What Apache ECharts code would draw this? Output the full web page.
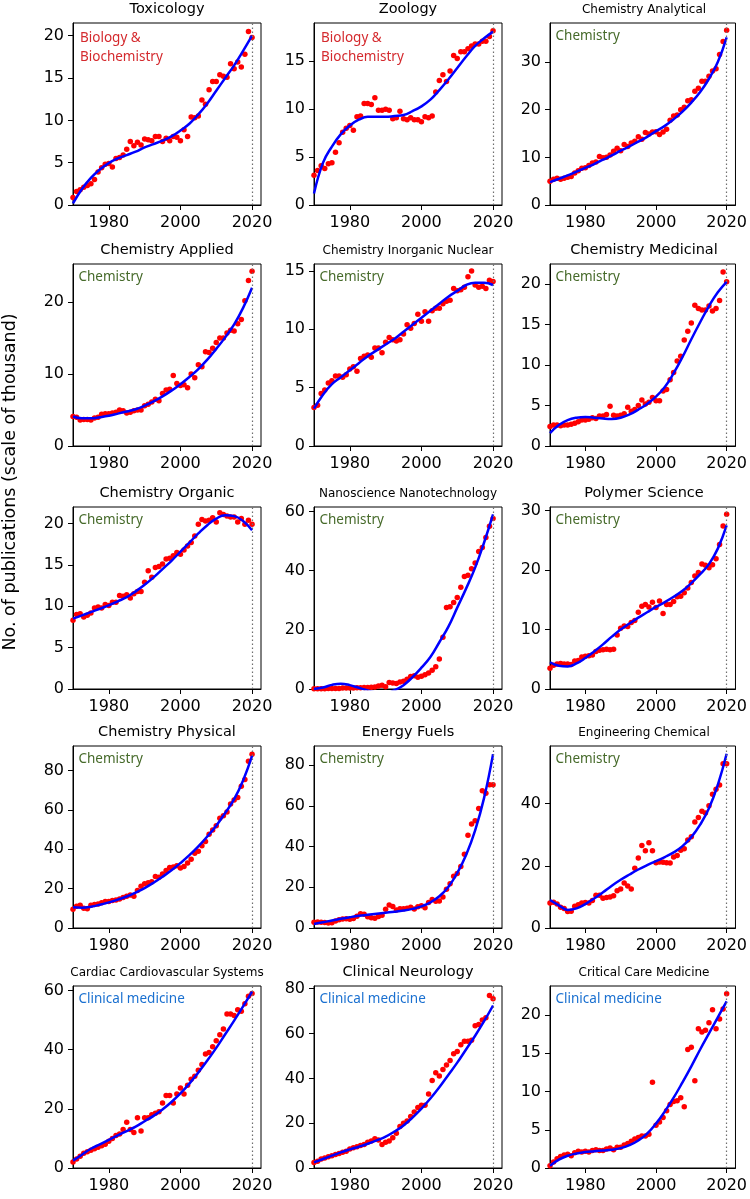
<!DOCTYPE html>
<html>
<head>
<meta charset="utf-8">
<script src="https://cdn.jsdelivr.net/npm/echarts@6/dist/echarts.min.js"></script>
<style>
html,body{margin:0;padding:0;background:#fff;}
#chart{width:750px;height:1199px;}
</style>
</head>
<body>
<div id="chart"></div>
<script>
// ---------------- DATA ----------------
const panelTitles = [
  'Toxicology', 'Zoology', 'Chemistry Analytical',
  'Chemistry Applied', 'Chemistry Inorganic Nuclear', 'Chemistry Medicinal',
  'Chemistry Organic', 'Nanoscience Nanotechnology', 'Polymer Science',
  'Chemistry Physical', 'Energy Fuels', 'Engineering Chemical',
  'Cardiac Cardiovascular Systems', 'Clinical Neurology', 'Critical Care Medicine'
];
const fieldNames = ['Biology &\nBiochemistry', 'Chemistry', 'Clinical medicine'];
const panelField = [0, 0, 1, 1, 1, 1, 1, 1, 1, 1, 1, 1, 2, 2, 2];
const yAxisLabel = 'No. of publications (scale of thousand)';

const years = [];
for (let y = 1970; y <= 2020; y++) years.push(y);
const fitYears = [1970, 1972.5, 1975, 1977.5, 1980, 1982.5, 1985, 1987.5, 1990, 1992.5, 1995,
  1997.5, 2000, 2002.5, 2005, 2007.5, 2010, 2012.5, 2015, 2017.5, 2020];
const xTickValues = [1980, 2000, 2020];
const referenceYear = 2020;

// yearly publications (thousands), 1970..2020
const toxicology = [0.9,1.6,1.8,2.1,2.3,2.5,3.0,3.9,4.4,4.8, 4.9,4.5,5.5,5.6,5.9,6.6,7.5,7.0,7.4,7.1,
  7.8,7.7,7.6,8.1,8.1,7.5,7.9,7.6,8.1,8.0, 7.6,8.9,8.1,10.4,10.3,10.5,12.4,11.9,13.6,14.6,
  14.6,15.4,15.2,15.1,16.7,16.1,16.9,16.3,17.8,20.5,19.8];
const zoology = [3.1,3.6,4.1,3.8,4.3,4.4,5.5,6.5,7.6,8.0, 8.3,7.8,9.2,9.3,10.6,10.6,10.5,11.2,9.9,9.9,
  10.0,9.9,9.0,9.1,9.8,9.0,8.9,9.1,8.9,8.9, 8.7,9.2,9.1,9.3,11.8,13.0,13.6,12.9,14.0,15.6,
  15.3,16.0,16.0,16.3,16.6,16.8,16.8,17.1,17.1,17.6,18.2];
const chemAnalytical = [5.0,5.4,5.6,5.4,5.6,5.8,6.0,6.7,7.2,7.7, 7.8,8.3,8.8,9.0,10.2,9.9,10.0,10.5,11.3,11.9,
  11.4,12.7,12.3,13.0,13.4,14.3,13.8,15.2,14.9,15.3, 15.4,14.8,15.3,15.9,17.8,18.7,18.9,20.0,20.5,21.9,
  22.1,23.9,24.5,26.0,26.0,27.0,28.1,28.6,31.6,34.3,36.7];
const chemApplied = [4.1,4.0,3.6,3.7,3.7,3.6,3.9,4.0,4.4,4.5, 4.5,4.6,4.7,5.0,4.9,4.6,4.7,4.9,5.0,5.0,
  5.6,5.8,6.1,6.5,6.3,7.3,7.8,7.9,9.8,8.7, 8.4,8.5,8.1,10.0,9.5,11.3,11.0,13.1,13.0,13.6,
  14.4,15.0,15.0,15.7,16.1,16.0,17.0,17.6,20.2,23.0,24.3];
const chemInorganic = [3.3,3.5,4.5,4.8,5.4,5.6,6.0,6.0,5.9,6.1, 6.6,6.8,6.4,7.5,7.7,7.8,7.6,8.4,8.4,8.0,
  8.9,9.3,9.1,9.0,9.1,9.6,10.4,10.1,10.5,11.3, 10.7,11.5,10.7,11.6,11.8,11.8,12.2,12.4,12.5,13.5,
  13.3,13.4,13.6,14.5,15.0,13.8,13.6,13.7,13.5,14.2,14.1];
const chemMedicinal = [2.4,2.6,2.6,2.5,2.6,2.6,2.7,2.8,3.0,3.2, 3.2,3.3,3.5,3.4,3.7,3.7,3.9,4.9,3.8,3.7,
  3.8,4.0,4.8,4.3,4.5,5.0,5.7,5.2,5.4,6.0, 5.6,5.6,6.8,7.0,8.2,9.1,10.5,11.1,13.1,14.2,
  15.2,17.4,17.0,16.8,16.8,17.3,16.7,17.0,18.0,21.5,20.3];
const chemOrganic = [8.3,9.0,9.1,8.7,8.9,9.2,9.8,9.9,9.8,10.2, 10.1,10.5,10.5,11.3,11.2,11.4,11.0,11.5,11.8,11.8,
  12.9,14.3,13.5,14.7,14.8,15.1,15.7,15.8,16.1,16.5, 16.3,16.8,17.3,17.7,18.5,19.9,20.5,20.3,20.4,20.7,
  20.2,21.3,21.1,20.9,20.8,20.8,20.2,20.6,19.9,20.4,19.9];
const nanoscience = [0.1,0.1,0.1,0.1,0.2,0.2,0.2,0.2,0.3,0.3, 0.3,0.3,0.4,0.4,0.5,0.5,0.6,0.7,1.0,1.3,
  0.8,2.2,2.0,1.9,2.4,2.6,3.3,4.2,4.5,4.0, 4.3,4.8,5.4,6.3,7.5,10.1,17.5,27.5,27.8,29.2,
  30.9,34.4,38.0,38.4,40.6,42.6,46.5,47.8,51.2,55.0,57.6];
const polymer = [3.5,4.0,4.2,4.3,4.2,4.2,4.1,4.7,4.8,5.4, 5.5,5.6,5.7,6.3,6.5,6.6,6.7,6.6,6.7,9.1,
  10.2,10.6,10.5,11.2,11.5,12.9,13.9,14.2,13.8,14.6, 13.7,14.8,12.7,14.2,14.2,14.7,15.5,15.6,16.2,17.0,
  17.9,19.0,19.6,21.0,20.8,20.4,20.9,21.9,24.3,27.4,29.4];
const chemPhysical = [9.5,11.0,11.5,10.0,9.8,11.5,12.0,12.2,12.8,13.5, 13.5,14.0,14.2,14.8,15.5,16.2,16.8,16.2,19.0,21.2,
  22.5,23.0,23.5,26.2,25.8,27.5,29.2,30.8,31.0,31.6, 30.5,31.2,33.0,35.0,38.0,39.0,41.8,44.0,47.6,49.8,
  52.0,55.8,57.0,59.0,63.0,65.0,66.3,72.0,75.5,84.8,88.3];
const energyFuels = [2.8,2.9,2.8,2.7,2.5,2.6,3.5,4.0,4.4,4.5, 4.3,4.7,5.8,7.0,6.8,5.5,5.0,4.8,5.6,6.3,
  9.2,11.3,10.6,8.9,9.5,9.5,9.7,10.2,9.3,10.5, 11.0,9.9,12.5,14.0,13.1,13.3,15.3,19.0,21.8,25.5,
  26.8,30.3,36.3,45.6,51.2,52.8,58.8,67.5,66.3,70.5,70.5];
const engChemical = [8.0,8.3,7.7,6.7,6.3,5.3,5.4,7.0,7.5,8.0, 8.2,8.0,8.8,10.5,10.5,9.6,9.8,10.0,10.4,12.0,
  12.5,14.5,13.5,12.5,19.2,22.5,26.5,24.8,27.4,24.8, 21.0,21.2,21.1,21.0,20.9,22.8,23.3,25.0,25.5,28.3,
  29.3,34.1,35.5,37.5,37.0,39.3,43.0,44.6,46.0,52.8,52.8];
const cardiac = [2,3,4,5,5.5,6,6.5,7,7.5,8, 9,10,11,11.5,13,15.5,13,12,17,12.5,
  17,17,18,18.5,19,22,24.5,24.5,22,25, 27,25,28,30,31,33,35,38.5,39,41,
  43,45,47,52,52,51.5,53.5,53,55.5,58,59];
const neurology = [2.5,3,4,4.5,5,5.5,6,6.5,7,7.5, 8.5,9,9.5,10,10.5,11.5,12,13,12.5,10.5,
  11.5,12,13.5,15.5,18.5,20,21,23,25,27, 28,28,33,39,42.5,41,44,46,48,51,
  52,55,56.5,56.5,57,63.5,64,66,67,77,75.5];
const criticalCare = [0.3,0.8,1.2,1.5,1.7,1.8,1.6,2.0,2.2,2.1, 2.2,2.1,2.3,2.4,2.3,2.3,2.5,2.6,2.4,2.7,
  2.7,3.0,3.2,3.5,3.8,4.0,4.2,4.2,4.4,11.2, 5.6,6.0,6.6,7.5,8.3,8.7,8.8,9.2,8.0,15.5,
  15.8,11.4,18.2,17.8,18.0,19.0,20.7,18.2,19.5,20.8,22.8];

// fitted curves read at fitYears
const toxicologyFit = [0.2,1.9,3.2,4.2,4.95,5.5,5.9,6.3,6.8,7.2,7.6,8.1,8.8,9.6,10.7,12.0,13.5,15.0,16.5,18.2,20.0];
const zoologyFit = [1.2,4.4,6.1,7.4,8.3,8.9,9.2,9.2,9.2,9.3,9.4,9.8,10.3,11.0,12.0,13.1,14.3,15.5,16.6,17.4,18.1];
const chemAnalyticalFit = [4.8,5.5,6.2,7.0,7.8,8.6,9.5,10.4,11.4,12.3,13.3,14.3,15.5,16.6,18.0,19.6,21.5,23.7,26.5,30.0,35.2];
const chemAppliedFit = [4.1,3.85,3.85,4.0,4.2,4.5,4.8,5.1,5.6,6.2,6.9,7.7,8.6,9.6,10.7,12.0,13.5,15.1,16.9,19.2,22.0];
const chemInorganicFit = [3.2,4.4,5.3,5.9,6.5,7.1,7.7,8.2,8.7,9.2,9.8,10.4,11.0,11.6,12.2,12.8,13.3,13.8,14.0,14.0,13.8];
const chemMedicinalFit = [1.6,2.6,3.2,3.5,3.6,3.5,3.4,3.35,3.5,3.9,4.5,5.2,6.1,7.3,9.0,11.0,13.2,15.3,17.3,19.0,20.3];
const chemOrganicFit = [8.5,8.9,9.3,9.7,10.1,10.6,11.1,11.8,12.6,13.5,14.5,15.5,16.6,17.7,18.8,19.8,20.6,21.0,20.9,20.3,19.2];
const nanoscienceFit = [0.0,0.5,1.4,1.8,1.3,0.4,-0.5,-1.2,-1.4,-0.4,1.3,4.0,7.2,10.8,15.8,21.0,27.5,34.0,41.0,49.5,59.0];
const polymerFit = [4.5,3.9,3.8,4.3,5.2,6.3,7.5,8.8,10.0,11.0,12.0,12.9,13.8,14.6,15.5,16.5,17.8,19.3,21.0,23.6,27.5];
const chemPhysicalFit = [10.5,10.3,10.8,11.8,13.0,14.4,16.0,18.0,20.3,23.0,26.0,29.3,33.0,37.0,41.5,46.5,52.0,58.5,65.5,75.0,87.5];
const energyFuelsFit = [2.0,2.8,3.7,4.5,5.3,6.0,6.5,7.0,7.5,8.0,8.6,9.4,10.6,12.6,15.6,20.2,27.0,36.0,48.0,64.0,85.5];
const engChemicalFit = [9.0,7.3,5.8,6.3,7.7,9.5,11.5,13.6,15.5,17.2,18.8,20.2,21.5,22.8,24.3,26.3,29.2,33.2,38.5,46.0,56.0];
const cardiacFit = [2.5,4.5,6.5,8.0,9.5,11.0,12.5,14.0,15.8,17.6,19.8,22.3,25.2,28.5,32.3,36.3,40.6,45.2,49.8,54.6,59.6];
const neurologyFit = [2.5,4.0,5.5,7.0,8.3,9.5,10.8,12.3,14.0,16.3,19.0,22.5,26.5,31.0,36.0,41.5,47.0,53.0,59.0,65.5,72.5];
const criticalCareFit = [0.3,1.1,1.6,1.9,2.1,2.2,2.3,2.4,2.6,3.0,3.6,4.5,5.8,7.4,9.2,11.2,13.3,15.5,17.6,19.7,21.8];

const yTickLabels = [
  [0,5,10,15,20], [0,5,10,15], [0,10,20,30],
  [0,10,20], [0,5,10,15], [0,5,10,15,20],
  [0,5,10,15,20], [0,20,40,60], [0,10,20,30],
  [0,20,40,60,80], [0,20,40,60,80], [0,20,40],
  [0,20,40,60], [0,20,40,60,80], [0,5,10,15,20]
];

const dotSeries = [toxicology, zoology, chemAnalytical, chemApplied, chemInorganic, chemMedicinal,
  chemOrganic, nanoscience, polymer, chemPhysical, energyFuels, engChemical, cardiac, neurology, criticalCare];
const fitSeries = [toxicologyFit, zoologyFit, chemAnalyticalFit, chemAppliedFit, chemInorganicFit, chemMedicinalFit,
  chemOrganicFit, nanoscienceFit, polymerFit, chemPhysicalFit, energyFuelsFit, engChemicalFit,
  cardiacFit, neurologyFit, criticalCareFit];

// ---------------- LAYOUT / STYLE ----------------
const colLeft = [73, 314, 550];
const rowTop = [23, 264, 507, 746, 986];
const plotW = 188, plotH = 182;
const yMax = [21.5, 19.0, 38.2, 25.3, 15.6, 22.5, 22.0, 61.5, 30.6, 92.5, 89.5, 58.5, 61.5, 81.2, 23.8];
const smallTitle = [false, false, true, false, true, false, false, true, false, false, false, true, true, false, true];
const fieldColors = ['#d42a2e', '#466a2a', '#1a70d0'];
const baseFont = 'DejaVu Sans';
const fieldFont = 'Noto Sans';

const grids = [], xAxes = [], yAxes = [], series = [], graphics = [];

panelTitles.forEach((title, i) => {
  const r = Math.floor(i / 3), c = i % 3;
  const left = colLeft[c], top = rowTop[r];
  grids.push({left: left, top: top, width: plotW, height: plotH, show: true,
    borderColor: '#000', borderWidth: 1, backgroundColor: 'transparent', containLabel: false});
  xAxes.push({type: 'value', gridIndex: i, min: 1970, max: 2022.5,
    splitLine: {show: false},
    axisLine: {show: true, onZero: false, lineStyle: {color: '#000', width: 1}},
    axisTick: {show: true, length: 5, lineStyle: {color: '#000', width: 1}, customValues: xTickValues},
    axisLabel: {customValues: xTickValues, formatter: v => String(v), color: '#000', fontSize: 16,
      fontFamily: baseFont, margin: 10}
  });
  yAxes.push({type: 'value', gridIndex: i, min: 0, max: yMax[i],
    splitLine: {show: false},
    axisLine: {show: true, onZero: false, lineStyle: {color: '#000', width: 1}},
    axisTick: {show: true, length: 5, lineStyle: {color: '#000', width: 1}, customValues: yTickLabels[i]},
    axisLabel: {customValues: yTickLabels[i], formatter: v => String(v), color: '#000', fontSize: 16,
      fontFamily: baseFont, margin: 9}
  });
  series.push({
    type: 'scatter', xAxisIndex: i, yAxisIndex: i,
    data: years.map((yr, k) => [yr, dotSeries[i][k]]),
    symbol: 'circle', symbolSize: 5.5, itemStyle: {color: '#ff0000', opacity: 1}, z: 2,
    markLine: {silent: true, symbol: 'none', label: {show: false},
      lineStyle: {type: [1.5, 2.5], color: '#6f6f6f', width: 1.2},
      data: [{xAxis: referenceYear}]}
  });
  series.push({
    type: 'line', xAxisIndex: i, yAxisIndex: i,
    data: fitYears.map((yr, k) => [yr, fitSeries[i][k]]),
    smooth: 0.45, showSymbol: false, symbol: 'none', clip: true,
    lineStyle: {color: '#0000ff', width: 2.5}, z: 3
  });
  const fs = smallTitle[i] ? 12 : 14.5;
  graphics.push({type: 'text', silent: true, x: left + plotW / 2, y: top - (smallTitle[i] ? 13.5 : 14),
    style: {text: title, fill: '#000', fontSize: fs, fontFamily: baseFont, align: 'center', verticalAlign: 'middle'}});
  const f = panelField[i];
  graphics.push({type: 'text', silent: true, x: left + (f === 0 ? 7 : 5.5), y: top + (f === 0 ? 6 : 3.2),
    style: {text: fieldNames[f], fill: fieldColors[f], fontSize: 13.5, fontFamily: fieldFont,
      lineHeight: 19, align: 'left', verticalAlign: 'top'}});
});

graphics.push({type: 'text', silent: true, x: 10, y: 482, rotation: Math.PI / 2,
  style: {text: yAxisLabel, fill: '#000', fontSize: 17.5, fontFamily: baseFont, align: 'center', verticalAlign: 'middle'}});

const chart = echarts.init(document.getElementById('chart'), null, {renderer: 'canvas'});
chart.setOption({
  animation: false,
  backgroundColor: '#ffffff',
  grid: grids,
  xAxis: xAxes,
  yAxis: yAxes,
  series: series,
  graphic: graphics
});
</script>
</body>
</html>
